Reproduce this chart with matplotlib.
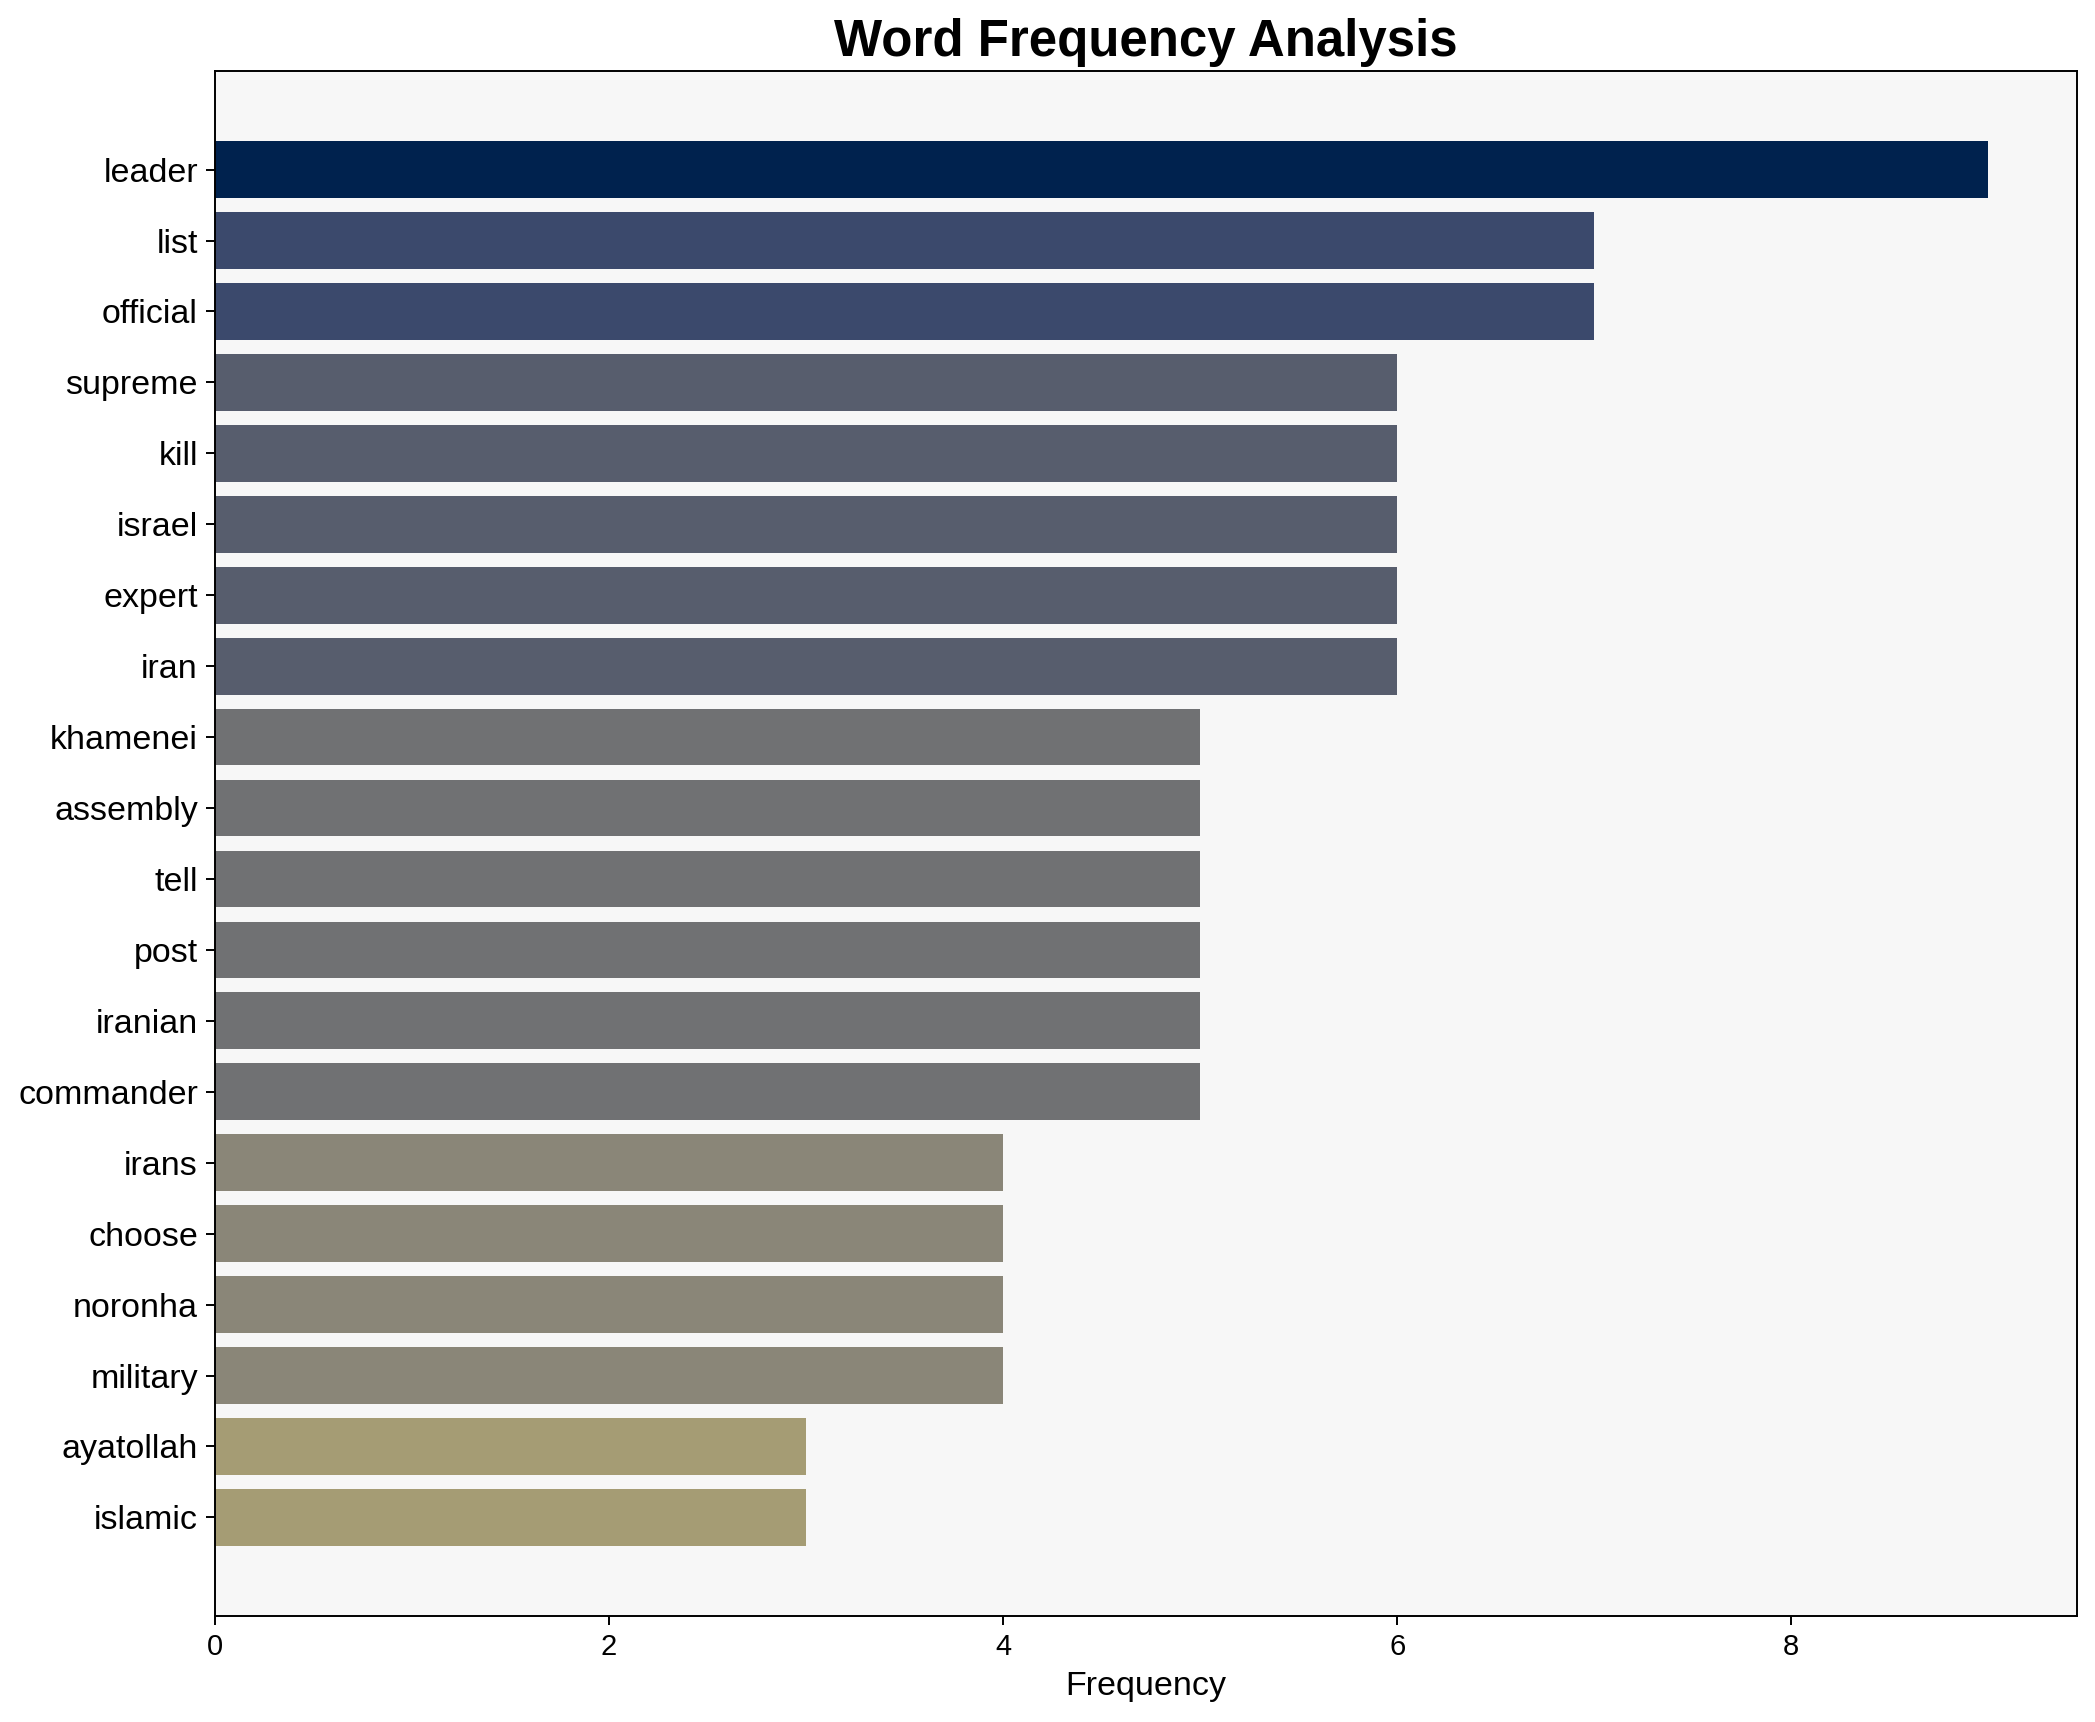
import matplotlib
matplotlib.use('Agg')
import matplotlib.pyplot as plt
import numpy as np

plt.rcParams['font.family'] = ['Liberation Sans', 'DejaVu Sans']

# 词频数据
words = ['leader', 'list', 'official', 'supreme', 'kill', 'israel', 'expert', 'iran',
         'khamenei', 'assembly', 'tell', 'post', 'iranian', 'commander',
         'irans', 'choose', 'noronha', 'military', 'ayatollah', 'islamic']
freqs = [9, 7, 7, 6, 6, 6, 6, 6,
         5, 5, 5, 5, 5, 5,
         4, 4, 4, 4, 3, 3]

DPI = 175
fig = plt.figure(figsize=(2095 / DPI, 1722 / DPI), dpi=DPI)
ax = fig.add_axes([215 / 2095, 1 - 1616 / 1722, (2077 - 215) / 2095, (1616 - 71) / 1722])

vals = np.array(freqs)
colors = plt.cm.cividis(1 - vals / vals.max())
y = np.arange(len(words))
ax.barh(y, vals, height=0.8, color=colors)
ax.set_yticks(y)
ax.set_yticklabels(words, fontsize=14)
ax.invert_yaxis()
ax.tick_params(axis='x', labelsize=12)
ax.set_facecolor('#f7f7f7')
ax.set_xlabel('Frequency', fontsize=14)
ax.set_title('Word Frequency Analysis', fontsize=21, fontweight='bold')

fig.savefig('out.png', dpi=DPI)
